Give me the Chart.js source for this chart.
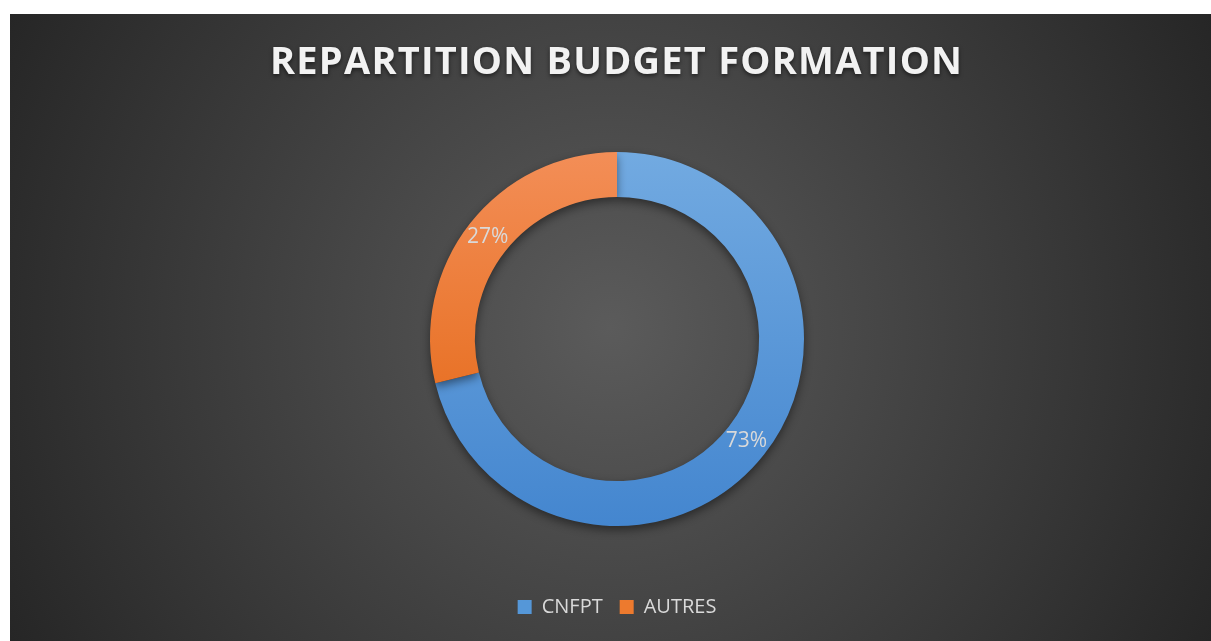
<!DOCTYPE html>
<html>
<head>
<meta charset="utf-8">
<script src="https://cdn.jsdelivr.net/npm/chart.js@4/dist/chart.umd.min.js"></script>
<style>
  html, body { margin: 0; padding: 0; background: #fff; }
  #wrap {
    position: absolute; left: 10px; top: 14px; width: 1201px; height: 627px;
    background: radial-gradient(circle farthest-corner at 50% 50%, #5b5b5b 0%, #262626 100%);
  }
  canvas { display: block; }
</style>
</head>
<body>
<div id="wrap"><canvas id="chart" width="1201" height="627"></canvas></div>
<script>
// data
const titleText = 'REPARTITION BUDGET FORMATION';
const categories = ['CNFPT', 'AUTRES'];
const values = [71.2, 28.8];          // share as drawn by the ring
const valueLabels = ['73%', '27%'];   // data labels as printed
const solidColors = ['#5597d8', '#ed7a2e'];
const gradTop = ['#72aae1', '#f38e57'];
const gradBottom = ['#4486cf', '#e2620b'];

let canvas = document.getElementById('chart');
let ctx = canvas.getContext('2d');

let ringFill = function(context) {
    let chart = context.chart;
    let area = chart.chartArea;
    if (!area) return solidColors[context.dataIndex];
    let meta = chart.getDatasetMeta(0);
    let arc = meta.data[context.dataIndex];
    let cy = (area.top + area.bottom) / 2;
    let r = arc && arc.outerRadius ? arc.outerRadius : 187;
    let g = chart.ctx.createLinearGradient(0, cy - r, 0, cy + r);
    g.addColorStop(0, gradTop[context.dataIndex]);
    g.addColorStop(1, gradBottom[context.dataIndex]);
    return g;
};

let ringShadow = {
    id: 'ringShadow',
    beforeDatasetsDraw(chart) {
        chart.ctx.save();
        chart.ctx.shadowColor = 'rgba(0,0,0,0.45)';
        chart.ctx.shadowBlur = 10;
        chart.ctx.shadowOffsetY = 4;
    },
    afterDatasetsDraw(chart) {
        chart.ctx.restore();
    }
};

let sliceLabels = {
    id: 'sliceLabels',
    afterDatasetsDraw(chart) {
        let c = chart.ctx;
        let meta = chart.getDatasetMeta(0);
        c.save();
        c.font = '21px "Open Sans"';
        c.fillStyle = '#d9d9d9';
        c.textAlign = 'center';
        c.textBaseline = 'middle';
        meta.data.forEach((arc, i) => {
            let p = arc.tooltipPosition();
            c.fillText(valueLabels[i], p.x, p.y);
        });
        c.restore();
    }
};

let spacedTitle = {
    id: 'spacedTitle',
    afterDraw(chart) {
        let c = chart.ctx;
        c.save();
        c.font = 'bold 38px "Open Sans"';
        c.letterSpacing = '0px';
        let plain = c.measureText(titleText).width;
        let spacing = (692 - plain) / (titleText.length - 1);
        c.letterSpacing = spacing + 'px';
        c.textAlign = 'left';
        c.textBaseline = 'middle';
        c.shadowColor = 'rgba(0,0,0,0.55)';
        c.shadowBlur = 4;
        c.shadowOffsetY = 2;
        c.fillStyle = '#f2f2f2';
        c.fillText(titleText, 606 - 692 / 2, 49);
        c.restore();
    }
};

let chart = new Chart(ctx, {
    type: 'doughnut',
    data: {
        labels: categories,
        datasets: [{
            data: values,
            backgroundColor: ringFill,
            borderWidth: 0,
            hoverOffset: 0
        }]
    },
    options: {
        responsive: false,
        animation: false,
        cutout: '76%',
        layout: { padding: { top: 84, bottom: 14, left: 420, right: 407 } },
        plugins: {
            tooltip: { enabled: false },
            legend: {
                position: 'bottom',
                labels: {
                    color: '#d9d9d9',
                    font: { family: 'Open Sans', size: 20 },
                    boxWidth: 14,
                    boxHeight: 14,
                    padding: 17,
                    generateLabels: function(ch) {
                        return categories.map((name, i) => ({
                            text: name,
                            fillStyle: solidColors[i],
                            strokeStyle: solidColors[i],
                            lineWidth: 0,
                            fontColor: '#d9d9d9',
                            index: i
                        }));
                    }
                }
            }
        }
    },
    plugins: [ringShadow, sliceLabels, spacedTitle]
});
</script>
</body>
</html>
